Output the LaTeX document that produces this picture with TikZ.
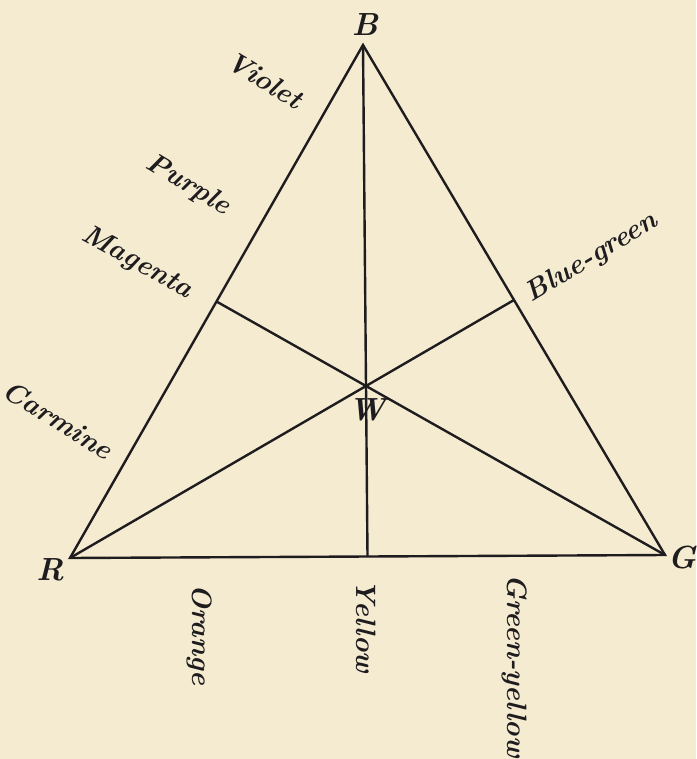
\documentclass[tikz,border=0pt]{standalone}
\usepackage{xcolor}
\usepackage{tikz}
\usetikzlibrary{positioning, calc}
\definecolor{paper}{RGB}{244,235,209}
\definecolor{ink}{RGB}{30,28,30}

\begin{document}
\begin{tikzpicture}[x=0.5pt, y=-0.5pt, every node/.style={font=\fontsize{14}{16}\selectfont\bfseries\itshape, text=ink, inner sep=1pt},
  side/.style={line width=1.2pt, draw=ink},
  corner/.style={font=\fontsize{16}{18}\selectfont\bfseries\itshape}]
  \fill[paper] (0,0) rectangle (696,759);
  \useasboundingbox (0,0) rectangle (696,759);
  % corners of the triangle
  \coordinate (B) at (363,45);
  \coordinate (R) at (70,558);
  \coordinate (G) at (665,555);
  \coordinate (mRB) at ($(R)!0.5!(B)$);
  \coordinate (mBG) at ($(B)!0.5!(G)$);
  \coordinate (mRG) at ($(R)!0.5!(G)$);
  \draw[side, line join=miter] (R) -- (B) -- (G) -- cycle;
  \draw[side] (B) -- (mRG);
  \draw[side] (R) -- (mBG);
  \draw[side] (G) -- (mRB);
  % letters
  \node[corner] (lblB) at (365,25) {B};
  \node[corner] (lblR) at (50,570) {R};
  \node[corner] (lblG) at (682,558) {G};
  \node[corner] (lblW) at (367,410) {W};
  % colours along the sides
  \node[rotate=-31] (violet) at (265,80) {Violet};
  \node[rotate=-31] (purple) at (188,185) {Purple};
  \node[rotate=-29] (magenta) at (137,263) {Magenta};
  \node[rotate=-32] (carmine) at (58,420) {Carmine};
  \node[rotate=31] (bluegreen) at (592,258) {Blue-green};
  \node[rotate=-90, anchor=west] (orange) at (200,582) {Orange};
  \node[rotate=-90, anchor=west] (yellow) at (366,577) {Yellow};
  \node[rotate=-90, anchor=west] (greenyellow) at (515,572) {Green-yellow};
\end{tikzpicture}
\end{document}
